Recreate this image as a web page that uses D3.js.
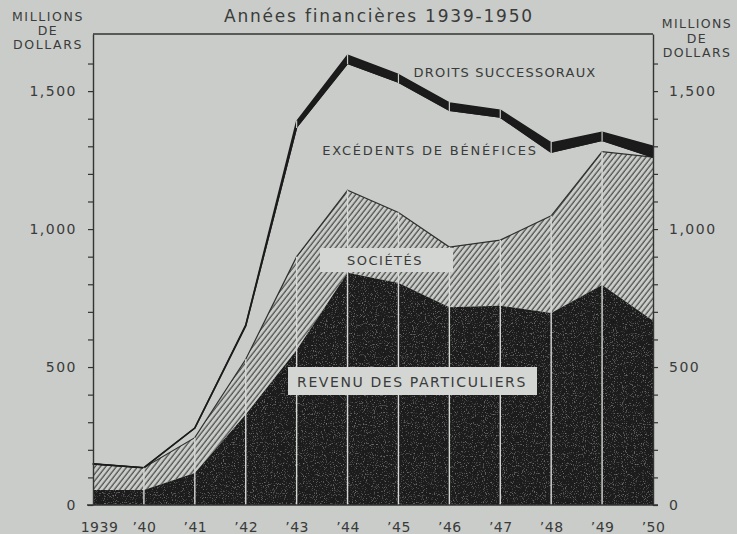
<!DOCTYPE html>
<html>
<head>
<meta charset="utf-8">
<script src="https://cdn.jsdelivr.net/npm/d3@7"></script>
<style>
  body { margin: 0; background: #c9ccc9; }
  svg { display: block; }
  text { font-family: "DejaVu Sans", sans-serif; fill: #3a3b3a; }
</style>
</head>
<body>
<div id="container"></div>
<script>
// values, millions of dollars
var years = [1939, 1940, 1941, 1942, 1943, 1944, 1945, 1946, 1947, 1948, 1949, 1950];
var revenu = [54, 54, 116, 328, 562, 842, 805, 717, 722, 696, 797, 668];
var societes = [95, 81, 128, 200, 338, 299, 255, 218, 238, 352, 484, 593];
var excedents = [0, 0, 35, 122, 470, 460, 473, 496, 446, 231, 41, 0];
var droits = [0, 0, 0, 2, 20, 29, 27, 26, 25, 33, 29, 39];
var yLabels = [0, 500, 1000, 1500];
var xLabels = ["1939", "’40", "’41", "’42", "’43", "’44", "’45", "’46", "’47", "’48", "’49", "’50"];

var keys = ["revenu", "societes", "excedents", "droits"];
var table = years.map(function(y, i) {
  return { year: y, revenu: revenu[i], societes: societes[i], excedents: excedents[i], droits: droits[i] };
});
var series = d3.stack().keys(keys)(table);

var width = 737, height = 534;
var svg = d3.select("#container")
  .append("svg")
  .attr("width", width)
  .attr("height", height);

var x = d3.scaleLinear().domain([1939, 1950]).range([93, 653]);
var y = d3.scaleLinear().domain([0, 1707]).range([505, 34]);

var defs = svg.append("defs");
defs.append("pattern")
  .attr("id", "hatch")
  .attr("patternUnits", "userSpaceOnUse")
  .attr("width", 4.2)
  .attr("height", 10)
  .attr("patternTransform", "rotate(38)")
  .append("line")
    .attr("x1", 1).attr("y1", 0)
    .attr("x2", 1).attr("y2", 10)
    .attr("stroke", "#3a3b3a")
    .attr("stroke-width", 1.1);

// faint speckle on the dark area, like the printed screen
var grain = defs.append("filter").attr("id", "grain");
grain.append("feTurbulence")
  .attr("type", "fractalNoise").attr("baseFrequency", 0.9).attr("numOctaves", 2).attr("result", "n");
grain.append("feColorMatrix")
  .attr("in", "n").attr("type", "matrix")
  .attr("values", "0 0 0 0 0.4  0 0 0 0 0.4  0 0 0 0 0.4  0 0 0 1.5 -0.86")
  .attr("result", "s");
grain.append("feComposite").attr("in", "s").attr("in2", "SourceGraphic").attr("operator", "in").attr("result", "m");
var merge = grain.append("feMerge");
merge.append("feMergeNode").attr("in", "SourceGraphic");
merge.append("feMergeNode").attr("in", "m");

var area = d3.area()
  .x(function(d) { return x(d.data.year); })
  .y0(function(d) { return y(d[0]); })
  .y1(function(d) { return y(d[1]); });
var topLine = d3.line()
  .x(function(d) { return x(d.data.year); })
  .y(function(d) { return y(d[1]); });

// revenu des particuliers
svg.append("path")
  .attr("d", area(series[0]))
  .attr("fill", "#1c1d1c")
  .attr("filter", "url(#grain)");

// sociétés
svg.append("path")
  .attr("d", area(series[1]))
  .attr("fill", "url(#hatch)");
svg.append("path")
  .attr("d", topLine(series[1]))
  .attr("fill", "none")
  .attr("stroke", "#2e2f2e")
  .attr("stroke-width", 1.2);

// excédents de bénéfices: open area, thin line on top
svg.append("path")
  .attr("d", topLine(series[2]))
  .attr("fill", "none")
  .attr("stroke", "#222")
  .attr("stroke-width", 1.6);

// droits successoraux: thick band
svg.append("path")
  .attr("d", area(series[3]))
  .attr("fill", "#1a1b1a")
  .attr("stroke", "#1a1b1a")
  .attr("stroke-width", 1.5)
  .attr("stroke-linejoin", "round");

// white year lines through dark and hatched parts
svg.append("g")
  .selectAll("line")
  .data(table.slice(1, -1))
  .enter().append("line")
    .attr("x1", function(d) { return x(d.year); })
    .attr("x2", function(d) { return x(d.year); })
    .attr("y1", y(0))
    .attr("y2", function(d) { return y(d.revenu + d.societes); })
    .attr("stroke", "#d4d7d4")
    .attr("stroke-width", 1.4);

// small breaks in the band at each year
svg.append("g")
  .selectAll("line")
  .data(table.slice(1, -1).filter(function(d) { return d.droits > 5; }))
  .enter().append("line")
    .attr("x1", function(d) { return x(d.year); })
    .attr("x2", function(d) { return x(d.year); })
    .attr("y1", function(d) { return y(d.revenu + d.societes + d.excedents) + 1; })
    .attr("y2", function(d) { return y(d.revenu + d.societes + d.excedents + d.droits) - 1; })
    .attr("stroke", "#c9ccc9")
    .attr("stroke-width", 1.2);

// axes
var fmt = d3.format(",");
var yTicks = d3.range(0, 1700, 100);
function styleAxis(g) {
  g.select(".domain").attr("stroke", "#333").attr("stroke-width", 1.4);
  g.selectAll(".tick line").attr("stroke", "#333").attr("stroke-width", 1.2);
  g.selectAll(".tick text")
    .attr("font-size", 14)
    .attr("letter-spacing", 1.5)
    .attr("fill", "#3a3b3a");
}
var yFormat = function(d) { return yLabels.indexOf(d) >= 0 ? fmt(d) : ""; };

svg.append("g")
  .attr("transform", "translate(" + x(1939) + ",0)")
  .call(d3.axisLeft(y).tickValues(yTicks).tickFormat(yFormat).tickSize(5).tickSizeOuter(0).tickPadding(11))
  .call(styleAxis)
  .attr("font-family", null);

svg.append("g")
  .attr("transform", "translate(" + x(1950) + ",0)")
  .call(d3.axisRight(y).tickValues(yTicks).tickFormat(yFormat).tickSize(5).tickSizeOuter(0).tickPadding(11))
  .call(styleAxis)
  .attr("font-family", null);

// top border and zero line
svg.append("line")
  .attr("x1", x(1939)).attr("x2", x(1950))
  .attr("y1", y.range()[1]).attr("y2", y.range()[1])
  .attr("stroke", "#333").attr("stroke-width", 1.4);
svg.append("line")
  .attr("x1", x(1939) - 6).attr("x2", x(1950) + 5)
  .attr("y1", y(0)).attr("y2", y(0))
  .attr("stroke", "#333").attr("stroke-width", 1.6);

svg.append("g")
  .attr("transform", "translate(0," + y(0) + ")")
  .call(d3.axisBottom(x).tickValues(years).tickFormat(function(d, i) { return xLabels[i]; }).tickSize(0).tickPadding(17))
  .call(function(g) {
    g.select(".domain").remove();
    g.selectAll(".tick text").attr("font-size", 14).attr("letter-spacing", 0.5).attr("fill", "#3a3b3a");
    g.selectAll(".tick text").filter(function(d) { return d === 1939; }).attr("dx", 6);
  })
  .attr("font-family", null);

// title and unit labels
svg.append("text")
  .attr("x", 379).attr("y", 22)
  .attr("text-anchor", "middle")
  .attr("font-size", 17)
  .attr("letter-spacing", 1.8)
  .text("Années financières 1939-1950");

var unit = ["MILLIONS", "DE", "DOLLARS"];
svg.append("g").selectAll("text")
  .data(unit).enter().append("text")
    .attr("x", 48)
    .attr("y", function(d, i) { return 21 + i * 14; })
    .attr("text-anchor", "middle")
    .attr("font-size", 12.5)
    .attr("letter-spacing", 1.6)
    .text(function(d) { return d; });
svg.append("g").selectAll("text")
  .data(unit).enter().append("text")
    .attr("x", 697)
    .attr("y", function(d, i) { return 28 + i * 14.5; })
    .attr("text-anchor", "middle")
    .attr("font-size", 12.5)
    .attr("letter-spacing", 1.4)
    .text(function(d) { return d; });

// series labels
svg.append("text")
  .attr("x", 505).attr("y", 77)
  .attr("text-anchor", "middle")
  .attr("font-size", 13)
  .attr("letter-spacing", 1.2)
  .text("DROITS SUCCESSORAUX");

svg.append("text")
  .attr("x", 430).attr("y", 155)
  .attr("text-anchor", "middle")
  .attr("font-size", 13)
  .attr("letter-spacing", 1.8)
  .text("EXCÉDENTS DE BÉNÉFICES");

svg.append("rect")
  .attr("x", 320).attr("y", 248).attr("width", 133).attr("height", 24)
  .attr("fill", "#d3d6d3");
svg.append("text")
  .attr("x", 385).attr("y", 265)
  .attr("text-anchor", "middle")
  .attr("font-size", 13)
  .attr("letter-spacing", 1.5)
  .text("SOCIÉTÉS");

svg.append("rect")
  .attr("x", 288).attr("y", 367).attr("width", 249).attr("height", 28)
  .attr("fill", "#d3d6d3");
svg.append("text")
  .attr("x", 412).attr("y", 387)
  .attr("text-anchor", "middle")
  .attr("font-size", 14)
  .attr("letter-spacing", 1.6)
  .text("REVENU DES PARTICULIERS");
</script>
</body>
</html>
